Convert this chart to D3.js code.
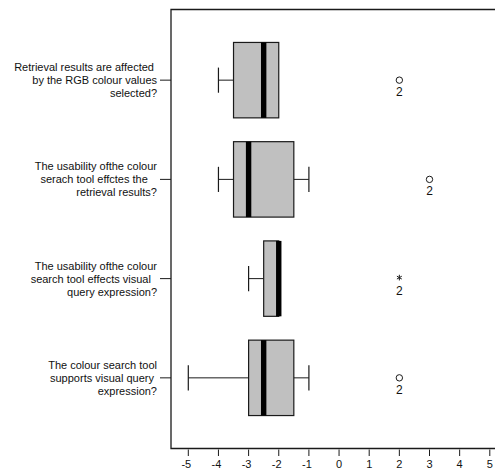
<!DOCTYPE html>
<html>
<head>
<meta charset="utf-8">
<script src="https://cdn.jsdelivr.net/npm/d3@7"></script>
<style>
  html, body { margin: 0; padding: 0; background: #fff; }
  svg { display: block; }
  text { font-family: "Liberation Sans", Arial, sans-serif; fill: #111; white-space: pre; }
</style>
</head>
<body>
<svg id="chart" width="495" height="473"></svg>
<script>
// Survey items (one box per item), each label split into display lines
const items = ["Q1", "Q2", "Q3", "Q4"];
const itemLabels = [
  ["Retrieval results are affected ", "by the RGB colour values", "selected?"],
  ["The usability ofthe colour", "serach tool effctes the   ", "retrieval results?"],
  ["The usability ofthe colour", "search tool effects visual  ", "query expression?"],
  ["The colour search tool", "supports visual query ", "expression?"]
];

// Five-number summaries per item
const whiskerLow  = [-4,   -4,   -3,   -5];
const q1          = [-3.5, -3.5, -2.5, -3];
const median      = [-2.5, -3,   -2,   -2.5];
const q3          = [-2,   -1.5, -2,   -1.5];
const whiskerHigh = [-2,   -1,   -2,   -1];

// Outlying cases: value, symbol ("o" = outlier, "*" = extreme), case id
const outlierValue  = [2, 3, 2, 2];
const outlierSymbol = ["o", "o", "*", "o"];
const outlierCase   = ["2", "2", "2", "2"];

// Horizontal axis ticks
const xTicks = [-5, -4, -3, -2, -1, 0, 1, 2, 3, 4, 5];

const svg = d3.select("#chart");
const plot = { left: 171, right: 500, top: 9.5, bottom: 448.5 };

const x = d3.scaleLinear().domain([-5, 5]).range([188.3, 489.8]);
const y = d3.scalePoint().domain(items).range([plot.top, plot.bottom]).padding(0.712);
const boxH = y.step() * 0.76;
const capH = boxH / 3;

const ink = "#1a1a1a";

// Frame: top border, left axis, bottom axis
svg.append("path")
  .attr("d", `M${plot.right},${plot.top}H${plot.left}V${plot.bottom}H${plot.right}`)
  .attr("fill", "none").attr("stroke", ink).attr("stroke-width", 1.3);

// Bottom axis ticks and labels
const xAxis = svg.append("g");
xAxis.selectAll("line").data(xTicks).join("line")
  .attr("x1", d => x(d)).attr("x2", d => x(d))
  .attr("y1", plot.bottom + 1).attr("y2", plot.bottom + 7.5)
  .attr("stroke", ink).attr("stroke-width", 1);
xAxis.selectAll("text").data(xTicks).join("text")
  .attr("x", d => x(d) - (d < 0 ? 2 : 0)).attr("y", plot.bottom + 19.5)
  .attr("text-anchor", "middle").attr("font-size", 11)
  .text(d => d);

// Left axis ticks and multi-line labels
const yAxis = svg.append("g");
yAxis.selectAll("line").data(items).join("line")
  .attr("x1", plot.left - 11).attr("x2", plot.left)
  .attr("y1", d => y(d)).attr("y2", d => y(d))
  .attr("stroke", ink).attr("stroke-width", 1);
yAxis.selectAll("text").data(items).join("text")
  .attr("text-anchor", "end").attr("font-size", 11)
  .attr("xml:space", "preserve")
  .each(function (d, i) {
    const lines = itemLabels[i];
    d3.select(this).selectAll("tspan").data(lines).join("tspan")
      .attr("x", 157)
      .attr("y", (l, j) => y(d) + (j - (lines.length - 1) / 2) * 13 + 4)
      .text(l => l);
  });

// Boxes
const boxes = svg.append("g").selectAll("g").data(items).join("g");

boxes.append("line")
  .attr("x1", (d, i) => x(whiskerLow[i])).attr("x2", (d, i) => x(q1[i]))
  .attr("y1", d => y(d)).attr("y2", d => y(d))
  .attr("stroke", ink);
boxes.append("line")
  .attr("x1", (d, i) => x(q3[i])).attr("x2", (d, i) => x(whiskerHigh[i]))
  .attr("y1", d => y(d)).attr("y2", d => y(d))
  .attr("stroke", ink);
boxes.filter((d, i) => whiskerLow[i] < q1[i]).append("line")
  .attr("x1", d => x(whiskerLow[items.indexOf(d)])).attr("x2", d => x(whiskerLow[items.indexOf(d)]))
  .attr("y1", d => y(d) - capH / 2).attr("y2", d => y(d) + capH / 2)
  .attr("stroke", ink).attr("stroke-width", 1.2);
boxes.filter((d, i) => whiskerHigh[i] > q3[i]).append("line")
  .attr("x1", d => x(whiskerHigh[items.indexOf(d)])).attr("x2", d => x(whiskerHigh[items.indexOf(d)]))
  .attr("y1", d => y(d) - capH / 2).attr("y2", d => y(d) + capH / 2)
  .attr("stroke", ink).attr("stroke-width", 1.2);

boxes.append("rect")
  .attr("x", (d, i) => x(q1[i])).attr("width", (d, i) => x(q3[i]) - x(q1[i]))
  .attr("y", d => y(d) - boxH / 2).attr("height", boxH)
  .attr("fill", "#c0c0c0").attr("stroke", ink).attr("stroke-width", 1.2);

boxes.append("rect")
  .attr("x", (d, i) => x(median[i]) - 2.7).attr("width", 5.4)
  .attr("y", d => y(d) - boxH / 2).attr("height", boxH)
  .attr("fill", "#000");

// Outliers (circle) and extremes (asterisk) with their case numbers
const outs = svg.append("g").selectAll("g").data(items).join("g");
outs.filter((d, i) => outlierSymbol[i] === "o").append("circle")
  .attr("cx", d => x(outlierValue[items.indexOf(d)])).attr("cy", d => y(d))
  .attr("r", 3.2).attr("fill", "none").attr("stroke", ink).attr("stroke-width", 1);
outs.filter((d, i) => outlierSymbol[i] === "*").append("path")
  .attr("transform", d => `translate(${x(outlierValue[items.indexOf(d)])},${y(d) - 1})`)
  .attr("d", d3.symbol(d3.symbolAsterisk, 22))
  .attr("fill", "none").attr("stroke", ink).attr("stroke-width", 1);
outs.append("text")
  .attr("x", (d, i) => x(outlierValue[i])).attr("y", d => y(d) + 16)
  .attr("text-anchor", "middle").attr("font-size", 12)
  .text((d, i) => outlierCase[i]);
</script>
</body>
</html>
